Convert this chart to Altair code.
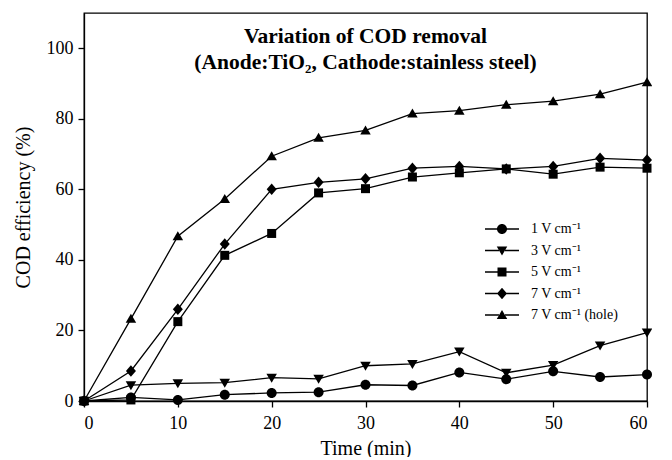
import altair as alt
import pandas as pd

time_min = [0, 5, 10, 15, 20, 25, 30, 35, 40, 45, 50, 55, 60]
series_names = ["1 V cm⁻¹", "3 V cm⁻¹", "5 V cm⁻¹", "7 V cm⁻¹", "7 V cm⁻¹ (hole)"]
cod_1v = [0, 1.0, 0.3, 1.8, 2.3, 2.5, 4.6, 4.4, 8.1, 6.2, 8.4, 6.8, 7.5]
cod_3v = [0, 4.5, 5.0, 5.2, 6.6, 6.3, 10.0, 10.5, 14.0, 8.0, 10.2, 15.7, 19.4]
cod_5v = [0, 0.3, 22.5, 41.3, 47.5, 59.0, 60.2, 63.5, 64.7, 65.8, 64.3, 66.3, 66.0]
cod_7v = [0, 8.5, 26.0, 44.5, 60.0, 62.0, 63.0, 66.0, 66.5, 65.8, 66.5, 68.8, 68.3]
cod_7v_hole = [0, 23.3, 46.7, 57.3, 69.4, 74.6, 76.7, 81.5, 82.3, 84.0, 85.0, 87.0, 90.4]
x_ticks = [0, 10, 20, 30, 40, 50, 60]
y_ticks = [0, 20, 40, 60, 80, 100]

all_series = [cod_1v, cod_3v, cod_5v, cod_7v, cod_7v_hole]
rows = []
for name, vals in zip(series_names, all_series):
    for t, v in zip(time_min, vals):
        rows.append({"time": t, "cod": v, "series": name})
df = pd.DataFrame(rows)

FONT = "Liberation Serif"

# marker shapes in unit coordinates
marker_paths = [
    "M-1,0A1,1,0,1,1,1,0A1,1,0,1,1,-1,0Z",
    "M-1.05,-0.8L1.05,-0.8L0,1.0Z",
    "M-0.9,-0.9L0.9,-0.9L0.9,0.9L-0.9,0.9Z",
    "M0,-1.15L1.0,0L0,1.15L-1.0,0Z",
    "M-1.05,0.8L1.05,0.8L0,-1.0Z",
]
seg = "M-3.4,-0.13L-0.6,-0.13L-0.6,0.13L-3.4,0.13Z M0.6,-0.13L3.4,-0.13L3.4,0.13L0.6,0.13Z"
legend_paths = [seg + " " + p for p in marker_paths]

xscale = alt.Scale(domain=[0, 60], nice=False, zero=False)
yscale = alt.Scale(domain=[0, 110], nice=False)

base = alt.Chart(df)

lines = base.mark_line(color="black", strokeWidth=1.3).encode(
    x=alt.X("time:Q", scale=xscale,
            axis=alt.Axis(title="Time (min)", values=x_ticks, labelFont=FONT, titleFont=FONT)),
    y=alt.Y("cod:Q", scale=yscale,
            axis=alt.Axis(title="COD efficiency (%)", values=y_ticks, labelFont=FONT, titleFont=FONT)),
    detail="series:N",
)

points = base.mark_point(filled=True, color="black", opacity=1, size=100).encode(
    x=alt.X("time:Q", scale=xscale),
    y=alt.Y("cod:Q", scale=yscale),
    shape=alt.Shape("series:N", scale=alt.Scale(domain=series_names, range=marker_paths),
                    legend=None),
)

legend_layer = base.mark_point(filled=True, color="black", opacity=1, size=100, clip=True).transform_calculate(
    xo="-100"
).encode(
    x=alt.X("xo:Q", scale=xscale),
    y=alt.Y("cod:Q", scale=yscale),
    shape=alt.Shape("series:N", scale=alt.Scale(domain=series_names, range=legend_paths),
                    legend=alt.Legend(title=None, orient="none", legendX=411, legendY=209,
                                      padding=0, rowPadding=7.5, labelOffset=22,
                                      symbolSize=100, symbolFillColor="black",
                                      symbolStrokeWidth=0, symbolOpacity=1,
                                      labelFont=FONT, labelFontSize=14, labelColor="black")),
)

chart = alt.layer(lines, points, legend_layer).resolve_scale(shape="independent").properties(
    width=563,
    height=388,
    padding={"left": 76, "top": 5, "right": 5, "bottom": 56},
    autosize=alt.AutoSizeParams(type="none"),
    title=alt.TitleParams(
        text=["Variation of COD removal", "(Anode:TiO₂, Cathode:stainless steel)"],
        font=FONT, fontSize=21.5, fontWeight="bold", color="black",
        anchor="middle", baseline="top", offset=0, dy=60, lineHeight=26,
    ),
).configure_view(
    stroke="black", strokeWidth=1.3
).configure_axis(
    grid=False, domainColor="black", domainWidth=1.3, tickColor="black", tickWidth=1.3,
    tickSize=6, labelFont=FONT, labelFontSize=18, labelColor="black", labelPadding=5,
    titleFont=FONT, titleFontSize=20, titleFontWeight="normal", titleColor="black",
).configure_axisX(titlePadding=6, labelPadding=7).configure_axisY(titlePadding=13)

chart.save("out.html", embed_options={"renderer": "svg", "actions": False})
